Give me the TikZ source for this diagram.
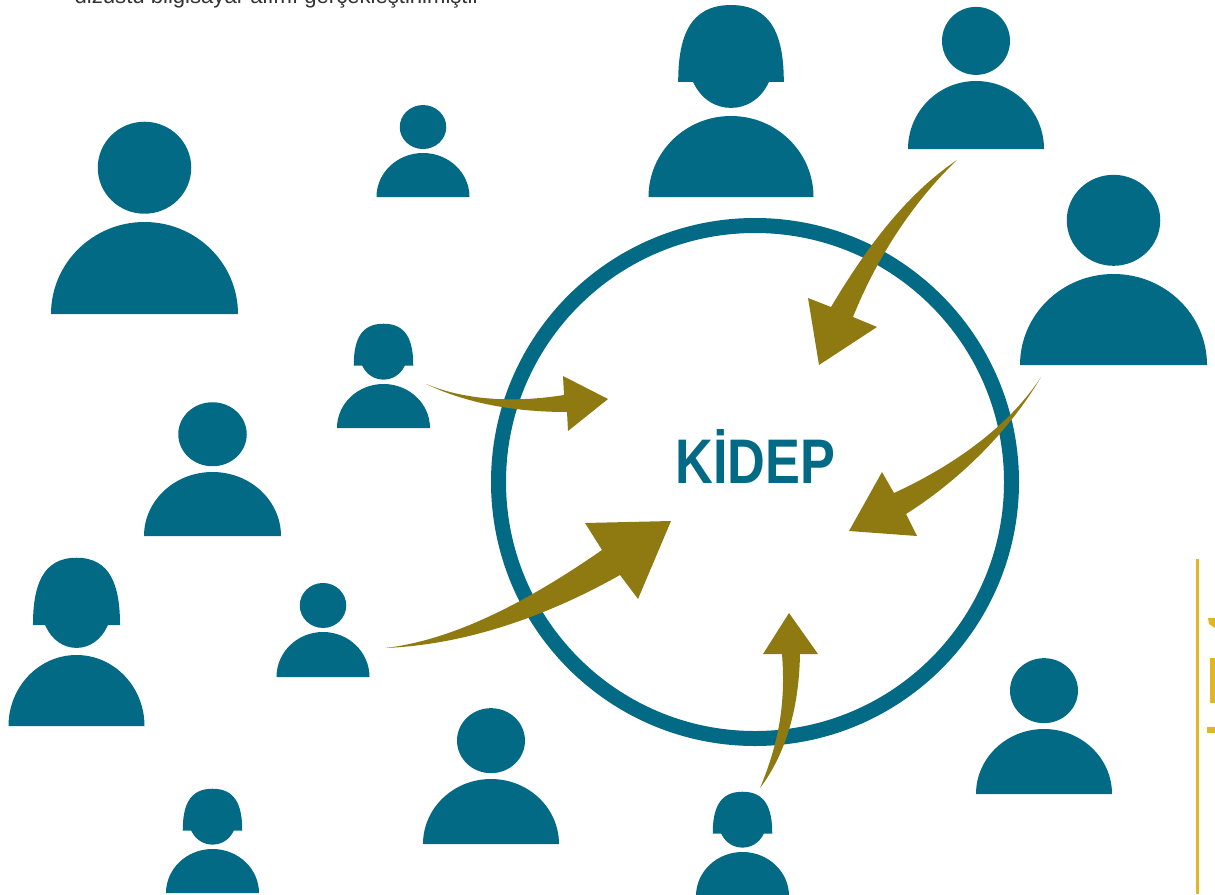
\documentclass[tikz,border=0pt]{standalone}
\usepackage{fontspec}
\setmainfont{Liberation Sans}
\definecolor{tealc}{HTML}{036A85}
\definecolor{olivec}{HTML}{8F7A12}
\definecolor{goldc}{HTML}{E0B526}
\tikzset{
	person/.style={fill=tealc},
	arrowshape/.style={fill=olivec},
	mark line/.style={draw=goldc, line width=3pt}
}
\begin{document}
\begin{tikzpicture}[x=1pt, y=-1pt, line join=round]
	\useasboundingbox (0,0) rectangle (1215,894);
	\clip (0,0) rectangle (1215,894);
	\path
	(755,482)coordinate (O)
	(1197,559)coordinate (L1)
	(1197,894)coordinate (L2)
	;
	\node[anchor=base west, inner sep=0pt, text=black!80, font=\fontsize{22.1}{26}\selectfont] (topline) at (74.5,3.5) {dizüstü bilgisayar alımı gerçekleştirilmiştir};
	% men
	\foreach \cx/\by/\w/\h in {144.5/314/93.5/92, 1113.5/365/93.5/91, 212.5/536/68.5/64, 976/149/68/68, 1044/794/68/65, 491/844/68/65, 423/197/46.5/44, 323/677/46.5/45}{
		\begin{scope}[shift={(\cx,\by)}, xscale=\w, yscale=\h]
			\fill[person] (0,-1.59) ellipse (.5 and .5);
			\fill[person] (-1,0) arc[start angle=180, end angle=360, radius=1] -- cycle;
		\end{scope}
	}
	% women
	\foreach \cx/\by/\w/\h in {731/197/82.5/81, 76.5/726/68/71, 383.5/428/46.5/44, 212.5/893/46.5/44, 742.5/896/46.5/44}{
		\begin{scope}[shift={(\cx,\by)}, xscale=\w, yscale=\h]
			\fill[person] (-.64,-1.42) .. controls (-.64,-1.98) and (-.5,-2.37) .. (0,-2.37) .. controls (.5,-2.37) and (.64,-1.98) .. (.64,-1.42) -- (.46,-1.42) .. controls (.36,-1.2) and (.18,-1.1) .. (0,-1.1) .. controls (-.18,-1.1) and (-.36,-1.2) .. (-.46,-1.42) -- cycle;
			\fill[person] (-1,0) arc[start angle=180, end angle=360, radius=1] -- cycle;
		\end{scope}
	}
	\draw[tealc, line width=15pt] (O) circle (256.5);
	\node[text=tealc, inner sep=0pt, font=\bfseries\fontsize{63}{63}\selectfont, anchor=base, xscale=.83, transform shape] (kidep) at (755.5,483) {KİDEP};
	% arrows
	\fill[arrowshape] (957,160) .. controls (905,195) and (865,250) .. (831,307) -- (808,298) -- (819,365) -- (877,327) -- (853,317) .. controls (875,262) and (910,205) .. cycle;
	\fill[arrowshape] (1041,377) .. controls (1010,425) and (955,465) .. (894,493) -- (882,472) -- (849,531) -- (917,536) -- (906,514) .. controls (960,480) and (1010,430) .. cycle;
	\fill[arrowshape] (760,788) .. controls (778,745) and (786,705) .. (782,654) -- (763,654) -- (789,613) -- (818,654) -- (800,654) .. controls (799,710) and (785,755) .. cycle;
	\fill[arrowshape] (385,648) .. controls (455,640) and (530,600) .. (602,550) -- (585,523) -- (671,521) -- (638,599) -- (620,575) .. controls (540,620) and (460,645) .. cycle;
	\fill[arrowshape] (426,384) .. controls (470,402) and (520,402) .. (564,395) -- (563,376) -- (608,399) -- (568,431) -- (567,412) .. controls (520,412) and (470,405) .. cycle;
	% right margin
	\draw[mark line] (L1)--(L2);
	\fill[goldc] (1208,618) -- (1215,618) -- (1215,628) -- (1212,626) -- (1209,624) -- cycle;
	\fill[goldc] (1210,658) rectangle (1215,703);
	\fill[goldc] (1207,727) rectangle (1215,733);
\end{tikzpicture}
\end{document}
